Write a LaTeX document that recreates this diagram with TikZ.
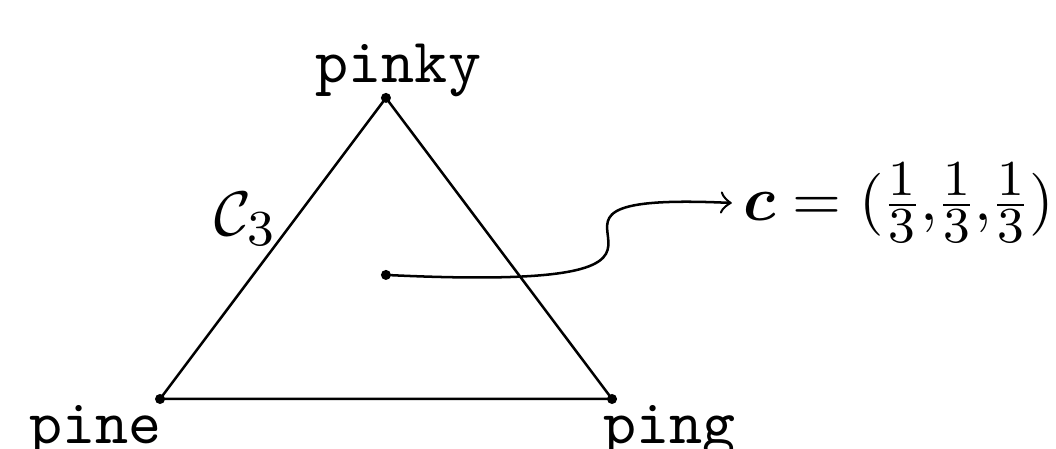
\documentclass[tikz,border=0pt]{standalone}
\usepackage{amsmath,amssymb}
\usetikzlibrary{calc}
\DeclareMathSizes{10}{10}{8}{6}
\begin{document}
\begin{tikzpicture}[>=to,
 vtx/.style={circle,fill=black,inner sep=0pt,minimum size=1.6pt},
 tag/.style={inner sep=0pt,font=\ttfamily}]
 \useasboundingbox (0,0) rectangle (5.899,2.508);
 % corners of the simplex and its centre
 \node[vtx] (pine) at (0.894,0.279) {};
 \node[vtx] (ping) at (3.419,0.279) {};
 \node[vtx] (pinky) at (2.156,1.961) {};
 \node[vtx] (ctr) at (2.156,0.972) {};
 \draw (pine.center)--(ping.center)--(pinky.center)--cycle;
 % labels
 \node[tag,anchor=base east] (lpine) at ($(pine)+(0.017,-0.246)$) {pine};
 \node[tag,anchor=base west] (lping) at ($(ping)+(-0.056,-0.246)$) {ping};
 \node[tag,anchor=base] (lpinky) at ($(pinky)+(0.07,0.084)$) {pinky};
 \node[inner sep=0pt,anchor=base west] (lC) at ($(pine)!0.5!(pinky)+(-0.335,0.075)$) {$\mathcal{C}_3$};
 \node[inner sep=1.6pt,anchor=west] (cval) at (4.088,1.374)
  {\nulldelimiterspace=0.8pt$\boldsymbol{c} = (\frac{1}{3}{,}\frac{1}{3}{,}\frac{1}{3})$};
 \draw[->] (ctr.center) .. controls +(2.318,-0.112) and +(-1.575,0.073) .. (cval.west);
\end{tikzpicture}
\end{document}
